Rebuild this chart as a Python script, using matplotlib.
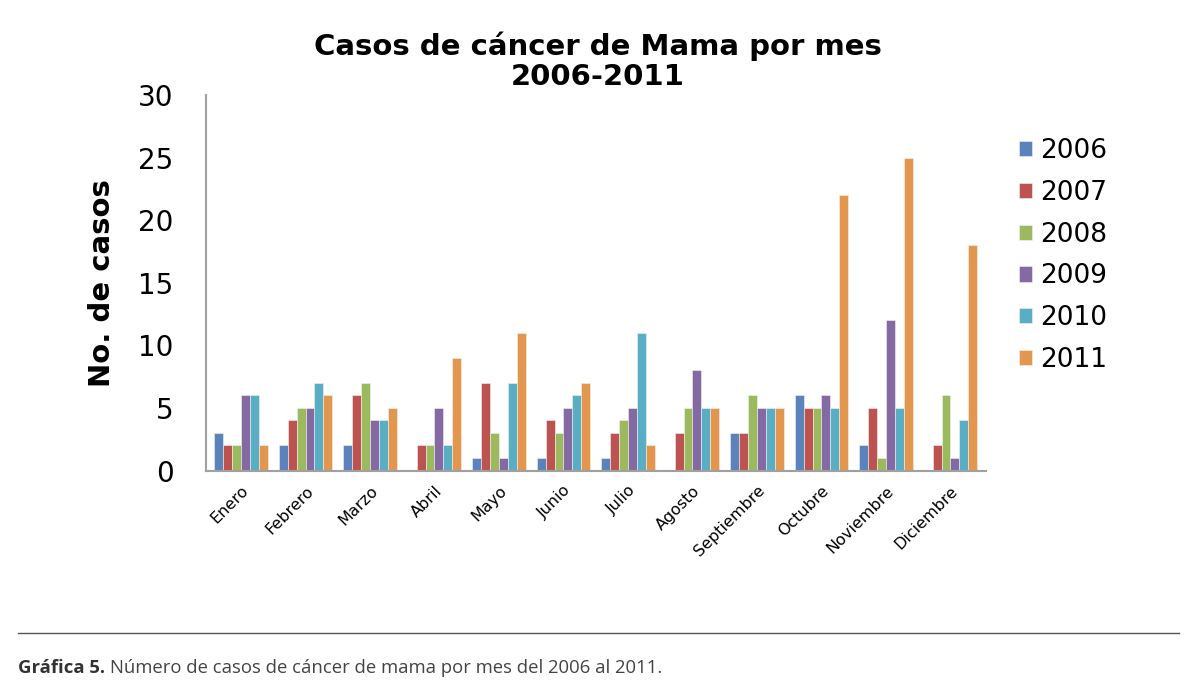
import numpy as np
import matplotlib.pyplot as plt

meses = ['Enero', 'Febrero', 'Marzo', 'Abril', 'Mayo', 'Junio', 'Julio',
         'Agosto', 'Septiembre', 'Octubre', 'Noviembre', 'Diciembre']
anios = ['2006', '2007', '2008', '2009', '2010', '2011']

c2006 = [3, 2, 2, 0, 1, 1, 1, 0, 3, 6, 2, 0]
c2007 = [2, 4, 6, 2, 7, 4, 3, 3, 3, 5, 5, 2]
c2008 = [2, 5, 7, 2, 3, 3, 4, 5, 6, 5, 1, 6]
c2009 = [6, 5, 4, 5, 1, 5, 5, 8, 5, 6, 12, 1]
c2010 = [6, 7, 4, 2, 7, 6, 11, 5, 5, 5, 5, 4]
c2011 = [2, 6, 5, 9, 11, 7, 2, 5, 5, 22, 25, 18]

series = [c2006, c2007, c2008, c2009, c2010, c2011]
colores = ['#5A83BC', '#BC5350', '#9BBA5E', '#8469A3', '#5AAEC4', '#E3964E']

fig = plt.figure(figsize=(11.95, 6.95), dpi=100)
ax = fig.add_axes([0.172, 0.323, 0.653, 0.54])

x = np.arange(len(meses))
w = 0.138
for i, (vals, col, lab) in enumerate(zip(series, colores, anios)):
    ax.bar(x + (i - 2.5) * w, vals, width=w, color=col, edgecolor='#F2F2F2',
           linewidth=0.4, label=lab)

ax.set_ylim(0, 30)
ax.set_xlim(-0.55, 11.55)
ax.set_yticks(range(0, 31, 5))
ax.tick_params(axis='y', labelsize=20, length=0, pad=23)
ax.set_xticks(x)
ax.set_xticklabels(meses, rotation=45, ha='right', rotation_mode='anchor', fontsize=11.5)
ax.tick_params(axis='x', length=0, pad=9)
for s in ['top', 'right']:
    ax.spines[s].set_visible(False)
for s in ['left', 'bottom']:
    ax.spines[s].set_color('#A0A0A0')
    ax.spines[s].set_linewidth(1.5)

ax.set_ylabel('No. de casos', fontsize=21, fontweight='bold', labelpad=16)
fig.text(0.5, 0.912, 'Casos de cáncer de Mama por mes\n2006-2011', ha='center',
         va='center', fontsize=21, fontweight='bold', linespacing=1.08)

ax.legend(loc='center left', bbox_to_anchor=(1.012, 0.573), frameon=False,
          fontsize=19, handlelength=0.5, handleheight=0.5, labelspacing=0.6,
          handletextpad=0.3)

fig.add_artist(plt.Line2D([0.015, 0.987], [0.089, 0.089], color='#555555', linewidth=1))
t1 = fig.text(0.015, 0.032, 'Gráfica 5.', fontsize=13.3, color='#333333',
              family='Open Sans', fontweight='bold')
fig.canvas.draw()
bb = t1.get_window_extent()
fig.text(bb.x1 / fig.bbox.width + 0.004, 0.032,
         'Número de casos de cáncer de mama por mes del 2006 al 2011.',
         fontsize=13.3, color='#444444', family='Open Sans')

fig.savefig('out.png', dpi=100)
